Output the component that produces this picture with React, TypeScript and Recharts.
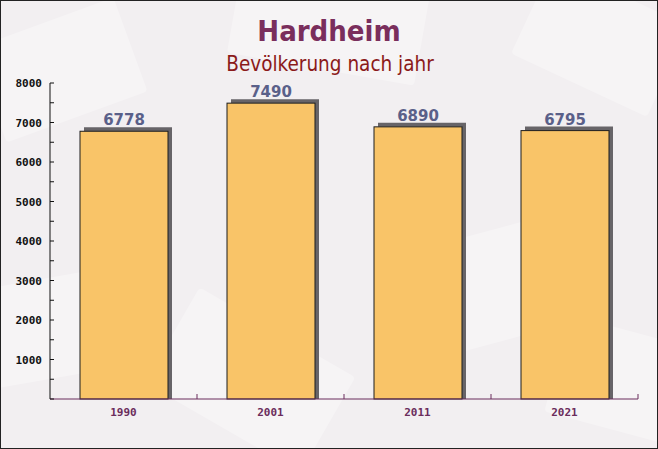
import { BarChart, Bar, XAxis, YAxis, LabelList } from 'recharts'

const years = ['1990', '2001', '2011', '2021']
const population = [6778, 7490, 6890, 6795]
const yTicks = [0, 500, 1000, 1500, 2000, 2500, 3000, 3500, 4000, 4500, 5000, 5500, 6000, 6500, 7000, 7500, 8000]

const data = years.map((year, i) => ({ year, value: population[i] }))

const MONO = '"DejaVu Sans Mono", monospace'
const SANS = '"DejaVu Sans", sans-serif'
const SANS_COND = '"DejaVu Sans Condensed", "DejaVu Sans", sans-serif'

// faint envelope shapes in the page background
const envelopes = [
  { cx: 60, cy: 70, w: 150, h: 100, r: -20 },
  { cx: 330, cy: 15, w: 190, h: 110, r: 10 },
  { cx: 600, cy: 40, w: 150, h: 100, r: 25 },
  { cx: 250, cy: 380, w: 180, h: 110, r: 30 },
  { cx: 480, cy: 290, w: 180, h: 110, r: -15 },
  { cx: 40, cy: 330, w: 130, h: 100, r: -10 },
  { cx: 620, cy: 380, w: 130, h: 100, r: 15 },
]

function ShadowBar(props: any) {
  const { x, y, width, height } = props
  const shadow = `M${x + 4},${y - 4} H${x + width + 4} V${y + height} H${x + width} V${y} H${x + 4} Z`
  return (
    <g>
      <path d={shadow} fill="#676468" />
      <rect x={x} y={y} width={width} height={height} fill="#f9c468" stroke="#1c1c1c" strokeWidth={1} />
    </g>
  )
}

function ValueLabel(props: any) {
  const { x, y, width, value } = props
  return (
    <text
      x={x + width / 2}
      y={y - 6}
      textAnchor="middle"
      fontFamily={SANS}
      fontWeight="bold"
      fontSize={15}
      fill="#5a6089"
    >
      {value}
    </text>
  )
}

function YTick(props: any) {
  const { x, y, payload } = props
  const major = payload.value % 1000 === 0
  return (
    <g>
      <line x1={x} x2={x + 4} y1={y} y2={y} stroke="#111" strokeWidth={1} />
      {major && payload.value !== 0 && (
        <text x={x - 8} y={y + 4} textAnchor="end" fontFamily={MONO} fontWeight="bold" fontSize={11} fill="#111">
          {payload.value}
        </text>
      )}
    </g>
  )
}

function XTick(props: any) {
  const { x, y, payload, index } = props
  const half = 73.5
  return (
    <g>
      {index > 0 && <line x1={x - half} x2={x - half} y1={y} y2={y - 5} stroke="#6b2d5c" />}
      {index === years.length - 1 && <line x1={x + half} x2={x + half} y1={y} y2={y - 5} stroke="#6b2d5c" />}
      <text x={x} y={y + 17} textAnchor="middle" fontFamily={MONO} fontWeight="bold" fontSize={11} fill="#6b2d5c">
        {payload.value}
      </text>
    </g>
  )
}

export default function App() {
  return (
    <div
      style={{
        position: 'absolute',
        top: 0,
        left: 0,
        width: 658,
        height: 449,
        background: '#f2eff1',
        overflow: 'hidden',
      }}
    >
      <svg width={658} height={449} style={{ position: 'absolute', top: 0, left: 0 }}>
        {envelopes.map((e, i) => (
          <rect
            key={i}
            x={e.cx - e.w / 2}
            y={e.cy - e.h / 2}
            width={e.w}
            height={e.h}
            rx={4}
            fill="#ffffff"
            fillOpacity={0.3}
            transform={`rotate(${e.r} ${e.cx} ${e.cy})`}
          />
        ))}
        <text x={329} y={41} textAnchor="middle" fontFamily={SANS_COND} fontWeight="bold" fontSize={29} fill="#7a2e5c">
          Hardheim
        </text>
        <text x={330} y={71} textAnchor="middle" fontFamily={SANS_COND} fontSize={20.5} fill="#8b1a1a">
          Bevölkerung nach jahr
        </text>
      </svg>
      <div style={{ position: 'absolute', top: 0, left: 0 }}>
        <BarChart width={658} height={449} data={data} margin={{ top: 83, right: 20, bottom: 20, left: 0 }}>
          <YAxis
            width={50}
            domain={[0, 8000]}
            ticks={yTicks}
            interval={0}
            tickSize={0}
            tickMargin={0}
            tickLine={false}
            axisLine={{ stroke: '#111' }}
            tick={<YTick />}
          />
          <XAxis
            dataKey="year"
            height={30}
            tickSize={0}
            tickMargin={0}
            tickLine={false}
            axisLine={{ stroke: '#6b2d5c' }}
            tick={<XTick />}
            interval={0}
          />
          <Bar dataKey="value" barSize={88} shape={<ShadowBar />} isAnimationActive={false}>
            <LabelList dataKey="value" content={<ValueLabel />} />
          </Bar>
        </BarChart>
      </div>
      <div
        style={{
          position: 'absolute',
          top: 0,
          left: 0,
          width: 658,
          height: 449,
          boxSizing: 'border-box',
          border: '1px solid #222',
          pointerEvents: 'none',
        }}
      />
    </div>
  )
}
